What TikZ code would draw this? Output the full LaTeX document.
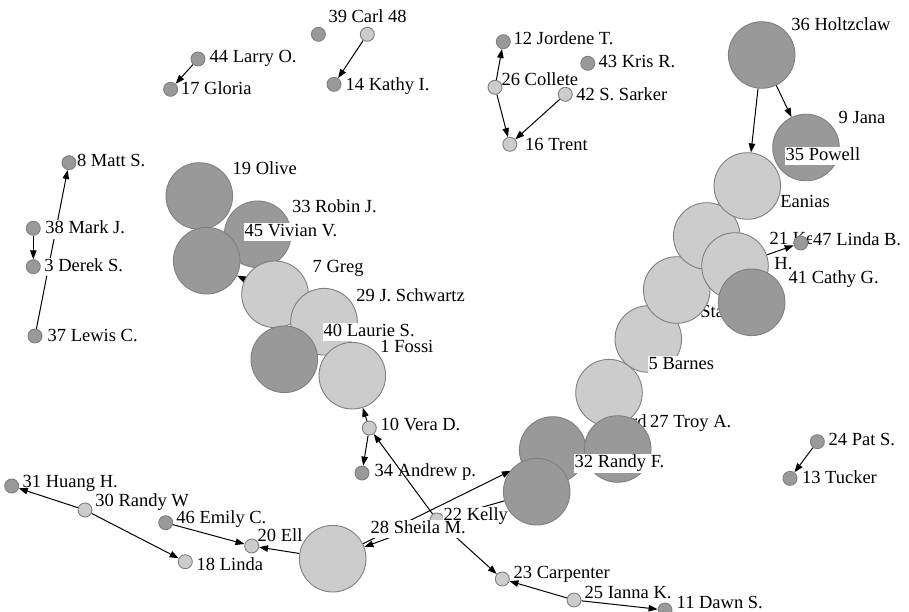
\documentclass[tikz,border=0pt]{standalone}
\usepackage{fontspec}
\setmainfont{Liberation Serif}
\newfontfamily\labelfont{Liberation Serif}
\usetikzlibrary{arrows.meta}
\pgfdeclarelayer{edgelayer}
\pgfsetlayers{edgelayer,main}
\definecolor{darkv}{HTML}{999999}
\definecolor{lightv}{HTML}{CCCCCC}
\definecolor{rimv}{HTML}{7F7F7F}
\begin{document}
\begin{tikzpicture}[x=1pt,y=-1pt,
  vtx/.style={circle,draw=rimv,line width=0.9pt,inner sep=0pt},
  sm/.style={vtx,minimum size=14pt},
  bg/.style={vtx,minimum size=66.6pt},
  dk/.style={fill=darkv},
  lt/.style={fill=lightv},
  lab/.style={anchor=west,inner sep=1pt,text height=12.5pt,text depth=4pt,
              font=\labelfont\fontsize{18.5}{20}\selectfont},
  labw/.style={lab,fill=white},
  edge/.style={line width=1pt,-{Triangle[length=9pt,width=6.5pt]}},
]
\useasboundingbox (0,0) rectangle (909,612);

% ---- small vertices (top and left)
\node[sm,dk] (v44) at (198,59) {};    \node[lab] (t44) at (208.5,58.7) {44 Larry O.};
\node[sm,dk] (v17) at (170.6,89.3) {}; \node[lab] (t17) at (179.9,90.3) {17 Gloria};
\node[sm,dk] (v39) at (318.4,34.3) {}; \node[lab] (t39) at (327.3,18.7) {39 Carl 48};
\node[sm,lt] (v48) at (367.3,34.3) {};
\node[sm,dk] (v14) at (334,84.3) {};   \node[lab] (t14) at (344.5,86.3) {14 Kathy I.};
\node[sm,dk] (v12) at (503.3,41.7) {}; \node[lab] (t12) at (512.5,40) {12 Jordene T.};
\node[sm,dk] (v43) at (587.8,63.3) {}; \node[lab] (t43) at (597.5,63.7) {43 Kris R.};
\node[sm,lt] (v26) at (495,87.3) {};   \node[lab] (t26) at (500.4,81) {26 Collete};
\node[sm,lt] (v42) at (565.3,94.3) {}; \node[lab] (t42) at (575.1,96.3) {42 S. Sarker};
\node[sm,lt] (v16) at (509.8,144.3) {};\node[lab] (t16) at (524,146) {16 Trent};
\node[sm,dk] (v8) at (69,162.7) {};    \node[lab] (t8) at (75.8,162.7) {8 Matt S.};
\node[sm,dk] (v38) at (33.3,228.3) {}; \node[labw] (t38) at (44.2,229.3) {38 Mark J.};
\node[sm,dk] (v3) at (33.3,266.7) {};  \node[labw] (t3) at (43.2,267) {3 Derek S.};
\node[sm,dk] (v37) at (35,336) {};     \node[lab] (t37) at (46.5,337) {37 Lewis C.};

% ---- left chain of large vertices
\node[bg,dk] (c19) at (199.3,196) {};   \node[lab] (t19) at (231.5,170.3) {19 Olive};
\node[bg,dk] (c33) at (257.7,234.3) {}; \node[lab] (t33) at (290.8,208) {33 Robin J.};
\node[bg,dk] (c45) at (206.7,260.7) {}; \node[labw] (t45) at (243.5,232) {45 Vivian V.};
\node[bg,lt] (c7) at (275,294.3) {};    \node[lab] (t7) at (311.5,268.7) {7 Greg};
\node[bg,lt] (c29) at (324,321.7) {};   \node[lab] (t29) at (355.2,297) {29 J. Schwartz};
\node[bg,dk] (c40) at (284.3,359.3) {}; \node[labw] (t40) at (322.5,332) {40 Laurie S.};
\node[bg,lt] (c1) at (352.3,375.7) {};  \node[lab] (t1) at (379.2,348.7) {1 Fossi};

% ---- lower middle
\node[sm,lt] (v10) at (369.3,428) {};  \node[lab] (t10) at (379.5,426) {10 Vera D.};
\node[sm,dk] (v34) at (362,473) {};    \node[lab] (t34) at (373.5,472) {34 Andrew p.};
\node[sm,dk] (v31) at (11.7,486) {};   \node[lab] (t31) at (21.5,483) {31 Huang H.};
\node[sm,lt] (v30) at (85,510) {};     \node[lab] (t30) at (94.2,502.7) {30 Randy W};
\node[sm,dk] (v46) at (165.7,522.7) {};\node[lab] (t46) at (175.2,519) {46 Emily C.};
\node[sm,lt] (v20) at (251.7,546) {};  \node[lab] (t20) at (256.5,537) {20 Ell};
\node[sm,lt] (v18) at (185.3,561.7) {};\node[lab] (t18) at (195.5,566.3) {18 Linda};
\node[sm,lt] (v22) at (437,520) {};    \node[labw] (t22) at (442.5,516) {22 Kelly};
\node[bg,lt] (c28) at (332.7,558.7) {};\node[labw] (t28) at (369.5,529) {28 Sheila M.};
\node[sm,lt] (v23) at (502.3,579) {};  \node[lab] (t23) at (512.5,574) {23 Carpenter};
\node[sm,lt] (v25) at (574,600) {};    \node[lab] (t25) at (583.5,594) {25 Ianna K.};
\node[sm,dk] (v11) at (665,610) {};    \node[lab] (t11) at (675.5,604.7) {11 Dawn S.};
\node[sm,dk] (v24) at (817.3,441.7) {};\node[lab] (t24) at (827.5,441.3) {24 Pat S.};
\node[sm,dk] (v13) at (790,478.3) {};  \node[lab] (t13) at (800.8,479.3) {13 Tucker};

% ---- right chain of large vertices
\node[bg,dk] (r1) at (552.7,450) {};    \node[lab] (trd) at (630,423) {rd};
\node[bg,lt] (r2) at (609,392.7) {};
\node[bg,dk] (r3) at (617.7,449) {};    \node[lab] (t27) at (649,423) {27 Troy A.};
\node[bg,dk] (r4) at (536.7,491.7) {};  \node[labw] (t32) at (573.5,463.7) {32 Randy F.};
\node[bg,lt] (r5) at (648.3,339) {};    \node[lab] (tsta) at (699.2,313.7) {Sta};
\node[labw] (t5) at (647.5,365.3) {5 Barnes};
\node[bg,lt] (r6) at (676.7,290) {};    \node[lab] (th) at (773.2,265.3) {H.};
\node[bg,lt] (r7) at (706.7,236) {};    \node[lab] (tean) at (779.2,203) {Eanias};
\node[bg,lt] (r8) at (735,266) {};      \node[lab] (t21) at (768.5,240.3) {21 Ke};
\node[bg,dk] (r9) at (751.7,302.3) {};  \node[lab] (t41) at (787.5,279) {41 Cathy G.};
\node[sm,dk] (v47) at (800.7,243) {};   \node[labw] (t47) at (812,241.3) {47 Linda B.};
\node[bg,dk] (r10) at (761.7,55) {};    \node[lab] (t36) at (790.2,26) {36 Holtzclaw};
\node[bg,dk] (r11) at (806,147.5) {};   \node[lab] (t9) at (837.5,119) {9 Jana};
\node[bg,lt] (r12) at (747.3,186) {};   \node[labw] (t35) at (784.5,156) {35 Powell};

% ---- connectors, kept underneath vertices and labels
\begin{pgfonlayer}{edgelayer}
\draw[edge] (v44) -- (v17);
\draw[edge] (v48) -- (v14);
\draw[edge] (v26) -- (v12);
\draw[edge] (v26) -- (v16);
\draw[edge] (v42) -- (v16);
\draw[edge] (v38) -- (v3);
\draw[edge] (v37) -- (v8);
\draw[edge] (c7) -- (c45);
\draw[edge] (v10) -- (c1);
\draw[edge] (v10) -- (v34);
\draw[edge] (v22) -- (v10);
\draw[edge] (v22) -- (v23);
\draw[edge] (v22) -- (c28);
\draw[edge,shorten >=13pt] (c28) -- (r1);
\draw[edge] (r4) -- (v22);
\draw[edge] (c28) -- (v20);
\draw[edge] (v46) -- (v20);
\draw[edge] (v30) -- (v31);
\draw[edge] (v30) -- (v18);
\draw[edge] (v25) -- (v23);
\draw[edge] (v25) -- (v11);
\draw[edge] (r8) -- (v47);
\draw[edge] (r10) -- (r11);
\draw[edge] (r10) -- (r12);
\draw[edge] (v24) -- (v13);
\end{pgfonlayer}
\end{tikzpicture}
\end{document}
